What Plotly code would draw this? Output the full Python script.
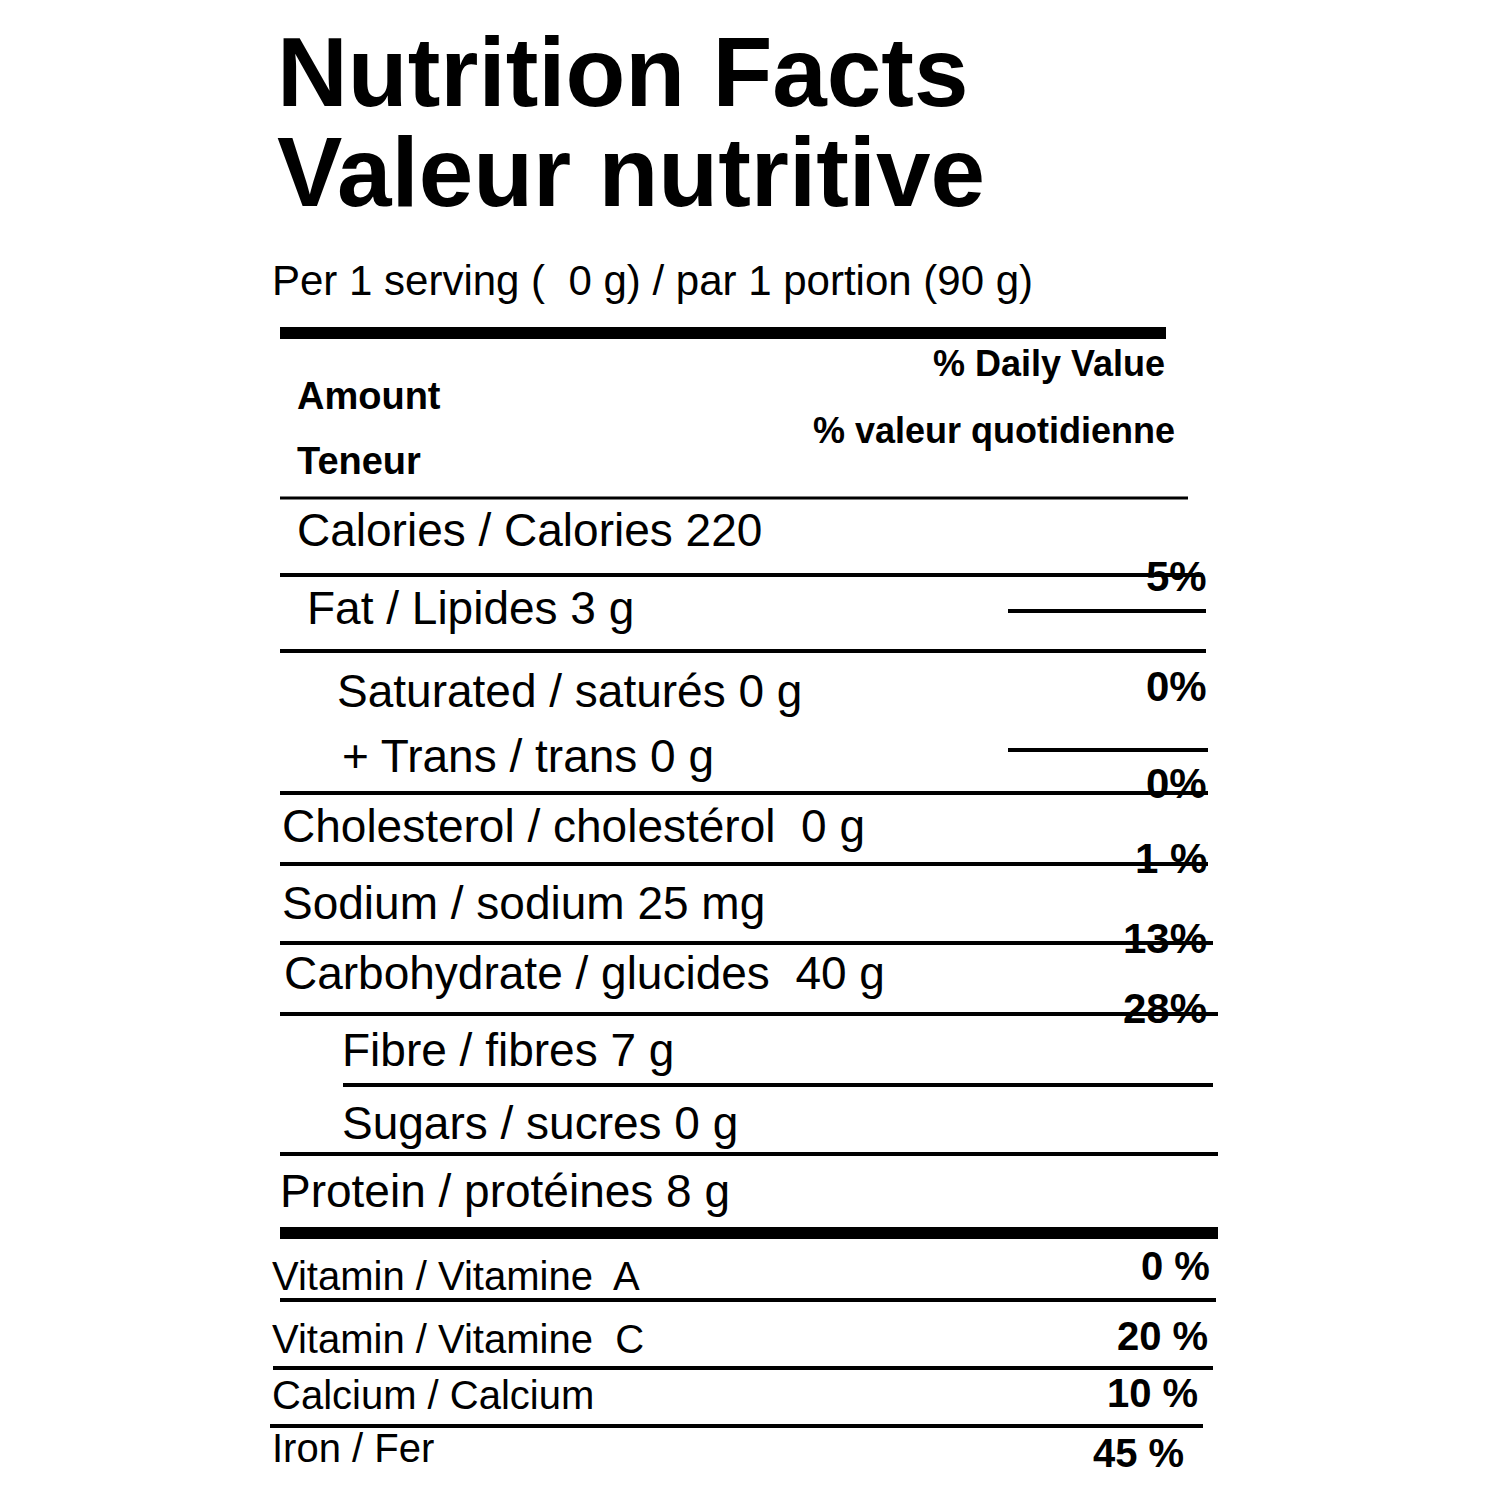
import plotly.graph_objects as go

labels = ["Calories / Calories 220", "Fat / Lipides 3 g", "Saturated / saturés 0 g", "+ Trans / trans 0 g",
          "Cholesterol / cholestérol  0 g", "Sodium / sodium 25 mg", "Carbohydrate / glucides  40 g",
          "Fibre / fibres 7 g", "Sugars / sucres 0 g", "Protein / protéines 8 g"]
label_y = [522, 600, 683, 748, 818, 895, 965, 1042, 1115, 1183]
label_x = [288, 298, 328, 333, 273, 273, 275, 333, 333, 271]
pct = ["", "5%", "0%", "", "0%", "1 %", "13%", "28%", "", ""]
pct_y = [0, 568, 678, 0, 775, 850, 930, 1000, 0, 0]
vit_labels = ["Vitamin / Vitamine  A", "Vitamin / Vitamine  C", "Calcium / Calcium", "Iron / Fer"]
vit_pct = ["0 %", "20 %", "10 %", "45 %"]
vit_y = [1268, 1331, 1387, 1440]
vit_py = [1258, 1328, 1385, 1445]
vit_px = [1198, 1196, 1186, 1172]
lines = [(272, 1180, 490, 3), (272, 1195, 524 + 43, 4), (1000, 1198, 603, 4), (272, 1198, 643, 4),
         (1000, 1200, 742, 4), (272, 1200, 785, 4), (272, 1200, 856, 4), (272, 1205, 935, 4),
         (272, 1210, 1006, 4), (335, 1205, 1077, 4), (272, 1210, 1146, 4), (272, 1208, 1292, 4),
         (265, 1205, 1360, 4), (262, 1195, 1418, 4)]

F = "Liberation Sans, Arial, sans-serif"
fig = go.Figure()
ann = []
def t(x, y, s, size, bold=False, anchor="left"):
    ann.append(dict(x=x, y=y, text=("<b>%s</b>" % s) if bold else s, showarrow=False,
                    xanchor=anchor, yanchor="middle", borderpad=0,
                    font=dict(family=F, size=size, color="black")))

t(268, 64, "Nutrition Facts", 98, True)
t(268, 164, "Valeur nutritive", 98, True)
t(263, 272, "Per 1 serving (  0 g) / par 1 portion (90 g)", 42)
t(288, 388, "Amount", 38, True)
t(288, 453, "Teneur", 38, True)
t(1158, 355, "% Daily Value", 36, True, "right")
t(1168, 422, "% valeur quotidienne", 36, True, "right")
for s, x, y in zip(labels, label_x, label_y):
    t(x, y, s, 46)
for p, y in zip(pct, pct_y):
    if p:
        t(1200, y, p, 42, True, "right")
for s, y, p, py, px in zip(vit_labels, vit_y, vit_pct, vit_py, vit_px):
    t(263, y, s, 40)
    t(px + 5, py, p, 40, True, "right")

shapes = [dict(type="line", x0=272, x1=1158, y0=325, y1=325, line=dict(color="black", width=12)),
          dict(type="line", x0=272, x1=1210, y0=1225, y1=1225, line=dict(color="black", width=12))]
for x0, x1, y, w in lines:
    shapes.append(dict(type="line", x0=x0, x1=x1, y0=y, y1=y, line=dict(color="black", width=w)))

fig.update_layout(width=1500, height=1500, margin=dict(l=0, r=0, t=0, b=0),
                  paper_bgcolor="white", plot_bgcolor="white", annotations=ann, shapes=shapes,
                  xaxis=dict(range=[0, 1500], visible=False),
                  yaxis=dict(range=[1500, 0], visible=False), showlegend=False)
fig.write_html("out.html")
